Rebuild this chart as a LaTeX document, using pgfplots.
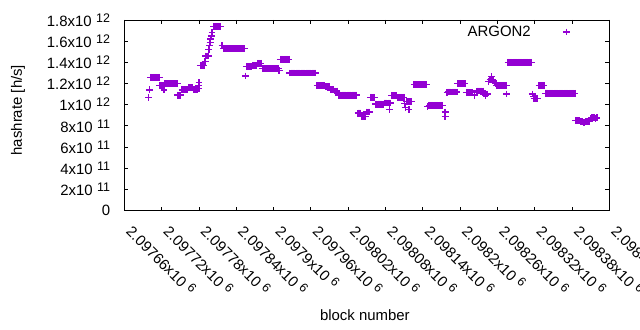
\documentclass[border=0pt]{standalone}
\usepackage{pgfplots}
\pgfplotsset{compat=1.18}
\usepackage{fontspec}
\setmainfont{Liberation Sans}
\definecolor{gpviolet}{RGB}{148,0,211}
\newcommand{\fs}{\fontsize{15}{18}\selectfont}
\newcommand{\ex}[1]{\hspace{4.5bp}\raisebox{4bp}{\fontsize{12.5}{12.5}\selectfont #1}}
\begin{document}
\begin{tikzpicture}
\path[use as bounding box] (-124.3bp,-119.5bp) rectangle (515.7bp,210.5bp);
\begin{axis}[
  at={(0,0)}, anchor=south west,
  scale only axis, width=485bp, height=190.5bp,
  xmin=2097660, xmax=2098440, ymin=0, ymax=1.8e12,
  xtick={2097660,2097720,2097780,2097840,2097900,2097960,2098020,2098080,2098140,2098200,2098260,2098320,2098380,2098440},
  xticklabels={2.09766x10\ex{6},2.09772x10\ex{6},2.09778x10\ex{6},2.09784x10\ex{6},2.0979x10\ex{6},2.09796x10\ex{6},2.09802x10\ex{6},2.09808x10\ex{6},2.09814x10\ex{6},2.0982x10\ex{6},2.09826x10\ex{6},2.09832x10\ex{6},2.09838x10\ex{6},2.09844x10\ex{6}},
  ytick={0,2e11,4e11,6e11,8e11,1e12,1.2e12,1.4e12,1.6e12,1.8e12},
  yticklabels={0,2x10\ex{11},4x10\ex{11},6x10\ex{11},8x10\ex{11},1x10\ex{12},1.2x10\ex{12},1.4x10\ex{12},1.6x10\ex{12},1.8x10\ex{12}},
  scaled ticks=false,
  tick align=inside, major tick length=4bp,
  tick style={black, line width=0.8bp},
  axis line style={black, line width=0.8bp},
  xticklabel style={font=\fs, xshift=10bp, yshift=-13bp, rotate=-45, anchor=north west, inner sep=0pt},
  yticklabel style={font=\fs, anchor=east, inner sep=0pt, xshift=-14bp},
  xlabel={block number}, ylabel={hashrate [h/s]},
  every axis x label/.style={at={(axis description cs:0.496,-0.549)}, anchor=center, font=\fs},
  every axis y label/.style={at={(axis description cs:-0.219,0.527)}, anchor=center, rotate=90, font=\fs},
  legend style={draw=none, fill=none, font=\fs, at={(axis description cs:0.9185,0.937)}, anchor=east, column sep=30bp, inner sep=0pt},
  legend cell align=right, legend plot pos=right,
]
\addplot[only marks, mark=+, color=gpviolet, mark size=3.4bp, mark options={line width=1.3bp}] coordinates {
(2097699,1.07e12)(2097700,1.14e12)
(2097702,1.26e12)(2097704,1.26e12)(2097706,1.26e12)(2097708,1.26e12)(2097710,1.26e12)(2097712,1.26e12)(2097714,1.26e12)(2097716,1.26e12)
(2097717,1.18e12)(2097719,1.18e12)(2097721,1.18e12)(2097723,1.18e12)(2097724,1.14e12)
(2097725,1.20e12)(2097727,1.20e12)(2097729,1.20e12)(2097731,1.20e12)(2097733,1.20e12)(2097735,1.20e12)(2097737,1.20e12)(2097739,1.20e12)(2097741,1.20e12)(2097743,1.20e12)(2097745,1.20e12)
(2097746,1.09e12)(2097748,1.09e12)(2097750,1.09e12)
(2097753,1.14e12)(2097755,1.14e12)(2097757,1.14e12)(2097759,1.14e12)(2097761,1.14e12)
(2097763,1.16e12)(2097765,1.16e12)(2097767,1.16e12)(2097769,1.16e12)
(2097771,1.14e12)(2097773,1.14e12)(2097775,1.14e12)(2097777,1.14e12)
(2097779,1.18e12)(2097780,1.21e12)(2097780,1.15e12)
(2097782,1.37e12)(2097784,1.37e12)(2097786,1.37e12)(2097788,1.37e12)
(2097790,1.41e12)
(2097791,1.46e12)(2097793,1.46e12)(2097795,1.46e12)
(2097796,1.52e12)(2097797,1.56e12)(2097798,1.59e12)(2097799,1.62e12)(2097800,1.65e12)(2097801,1.68e12)
(2097804,1.74e12)(2097806,1.74e12)(2097808,1.74e12)(2097810,1.74e12)(2097812,1.74e12)(2097814,1.74e12)(2097815,1.74e12)
(2097817,1.56e12)
(2097819,1.53e12)(2097821,1.53e12)(2097823,1.53e12)(2097825,1.53e12)(2097827,1.53e12)(2097829,1.53e12)(2097831,1.53e12)(2097833,1.53e12)(2097835,1.53e12)
(2097837,1.53e12)(2097839,1.53e12)(2097841,1.53e12)(2097843,1.53e12)(2097845,1.53e12)(2097847,1.53e12)(2097849,1.53e12)(2097851,1.53e12)(2097853,1.53e12)
(2097855,1.27e12)
(2097856,1.36e12)(2097858,1.36e12)(2097860,1.36e12)(2097862,1.36e12)(2097864,1.36e12)
(2097866,1.37e12)(2097868,1.37e12)(2097870,1.37e12)(2097872,1.37e12)
(2097874,1.39e12)(2097876,1.39e12)(2097878,1.39e12)(2097880,1.39e12)
(2097882,1.34e12)(2097884,1.34e12)(2097886,1.34e12)(2097888,1.34e12)(2097890,1.34e12)(2097892,1.34e12)(2097894,1.34e12)
(2097896,1.34e12)(2097898,1.34e12)(2097900,1.34e12)(2097902,1.34e12)(2097904,1.34e12)(2097906,1.34e12)(2097908,1.34e12)
(2097909,1.32e12)
(2097911,1.43e12)(2097913,1.43e12)(2097915,1.43e12)(2097917,1.43e12)(2097919,1.43e12)(2097921,1.43e12)(2097923,1.43e12)(2097925,1.43e12)
(2097926,1.30e12)(2097928,1.30e12)(2097930,1.30e12)(2097932,1.30e12)(2097934,1.30e12)(2097936,1.30e12)(2097938,1.30e12)(2097940,1.30e12)
(2097942,1.30e12)(2097944,1.30e12)(2097946,1.30e12)(2097948,1.30e12)(2097950,1.30e12)(2097952,1.30e12)(2097954,1.30e12)(2097956,1.30e12)
(2097958,1.30e12)(2097960,1.30e12)(2097962,1.30e12)(2097964,1.30e12)(2097966,1.30e12)(2097968,1.30e12)
(2097970,1.18e12)(2097972,1.18e12)(2097974,1.18e12)(2097976,1.18e12)(2097978,1.18e12)(2097980,1.18e12)(2097982,1.18e12)
(2097984,1.17e12)(2097986,1.17e12)(2097988,1.17e12)(2097990,1.17e12)
(2097992,1.14e12)(2097994,1.14e12)(2097996,1.14e12)
(2097998,1.13e12)(2098000,1.13e12)(2098002,1.13e12)
(2098004,1.09e12)(2098006,1.09e12)(2098008,1.09e12)(2098010,1.09e12)(2098012,1.09e12)(2098014,1.09e12)(2098016,1.09e12)(2098018,1.09e12)
(2098020,1.09e12)(2098022,1.09e12)(2098024,1.09e12)(2098026,1.09e12)(2098028,1.09e12)(2098030,1.09e12)(2098032,1.09e12)(2098034,1.09e12)
(2098036,0.92e12)(2098038,0.92e12)(2098040,0.92e12)
(2098042,0.89e12)(2098044,0.89e12)(2098046,0.89e12)(2098048,0.89e12)
(2098050,0.93e12)(2098052,0.93e12)(2098054,0.93e12)
(2098056,1.07e12)(2098058,1.07e12)(2098060,1.07e12)(2098062,1.07e12)
(2098064,1.005e12)(2098066,1.005e12)(2098068,1.005e12)(2098070,1.005e12)(2098072,1.005e12)(2098074,1.005e12)(2098076,1.005e12)
(2098078,1.015e12)(2098080,1.015e12)(2098082,1.015e12)(2098084,1.015e12)(2098086,1.015e12)(2098088,1.015e12)(2098087,0.957e12)
(2098090,1.085e12)(2098092,1.085e12)(2098094,1.085e12)(2098096,1.085e12)(2098098,1.085e12)
(2098100,1.07e12)(2098102,1.07e12)(2098104,1.07e12)(2098106,1.07e12)(2098108,1.07e12)(2098110,1.07e12)
(2098111,1.013e12)(2098112,0.97e12)
(2098114,1.03e12)(2098116,1.03e12)(2098118,1.03e12)(2098120,1.03e12)(2098122,1.03e12)(2098118,0.957e12)
(2098126,1.19e12)(2098128,1.19e12)(2098130,1.19e12)(2098132,1.19e12)(2098134,1.19e12)(2098136,1.19e12)(2098138,1.19e12)(2098140,1.19e12)
(2098142,1.19e12)(2098144,1.19e12)(2098146,1.19e12)
(2098148,0.98e12)
(2098150,0.995e12)(2098152,0.995e12)(2098154,0.995e12)(2098156,0.995e12)(2098158,0.995e12)(2098160,0.995e12)(2098162,0.995e12)
(2098164,0.995e12)(2098166,0.995e12)(2098168,0.995e12)(2098170,0.995e12)(2098172,0.995e12)
(2098176,0.93e12)(2098176,0.89e12)
(2098179,1.117e12)
(2098181,1.12e12)(2098183,1.12e12)(2098185,1.12e12)(2098187,1.12e12)(2098189,1.12e12)(2098191,1.12e12)(2098193,1.12e12)(2098195,1.12e12)
(2098196,1.20e12)(2098198,1.20e12)(2098200,1.20e12)(2098202,1.20e12)(2098204,1.20e12)(2098206,1.20e12)(2098208,1.20e12)
(2098210,1.115e12)(2098212,1.115e12)(2098214,1.115e12)(2098216,1.115e12)(2098218,1.115e12)(2098220,1.115e12)
(2098223,1.09e12)
(2098227,1.13e12)(2098229,1.13e12)(2098231,1.13e12)(2098233,1.13e12)(2098235,1.13e12)(2098237,1.13e12)
(2098238,1.10e12)(2098240,1.10e12)(2098242,1.10e12)(2098244,1.10e12)(2098241,1.085e12)
(2098246,1.22e12)(2098248,1.24e12)(2098251,1.265e12)(2098253,1.23e12)(2098256,1.21e12)(2098258,1.20e12)
(2098259,1.18e12)(2098261,1.18e12)(2098263,1.18e12)(2098265,1.18e12)(2098267,1.18e12)(2098269,1.18e12)(2098271,1.18e12)(2098273,1.18e12)(2098275,1.18e12)
(2098275,1.10e12)
(2098277,1.40e12)(2098279,1.40e12)(2098281,1.40e12)(2098283,1.40e12)(2098285,1.40e12)(2098287,1.40e12)(2098289,1.40e12)(2098291,1.40e12)(2098293,1.40e12)(2098295,1.40e12)
(2098297,1.40e12)(2098299,1.40e12)(2098301,1.40e12)(2098303,1.40e12)(2098305,1.40e12)(2098307,1.40e12)(2098309,1.40e12)(2098311,1.40e12)(2098313,1.40e12)(2098315,1.40e12)
(2098316,1.10e12)(2098318,1.075e12)
(2098319,1.06e12)(2098321,1.06e12)(2098323,1.06e12)(2098325,1.06e12)
(2098327,1.18e12)(2098329,1.18e12)(2098331,1.18e12)(2098333,1.18e12)(2098335,1.18e12)
(2098337,1.108e12)(2098339,1.108e12)(2098341,1.108e12)(2098343,1.108e12)(2098345,1.108e12)(2098347,1.108e12)(2098349,1.108e12)(2098351,1.108e12)(2098353,1.108e12)
(2098355,1.108e12)(2098357,1.108e12)(2098359,1.108e12)(2098361,1.108e12)(2098363,1.108e12)(2098365,1.108e12)(2098367,1.108e12)(2098369,1.108e12)(2098371,1.108e12)
(2098373,1.108e12)(2098375,1.108e12)(2098377,1.108e12)(2098379,1.108e12)(2098381,1.108e12)(2098383,1.108e12)(2098385,1.108e12)
(2098386,0.85e12)(2098388,0.85e12)(2098390,0.85e12)(2098392,0.85e12)
(2098394,0.84e12)(2098396,0.84e12)(2098398,0.83e12)(2098400,0.83e12)(2098402,0.84e12)(2098404,0.84e12)(2098406,0.84e12)(2098408,0.84e12)
(2098410,0.87e12)(2098412,0.875e12)(2098414,0.88e12)(2098416,0.875e12)(2098418,0.87e12)(2098420,0.875e12)
};
\addlegendentry{ARGON2}
\end{axis}
\end{tikzpicture}
\end{document}
